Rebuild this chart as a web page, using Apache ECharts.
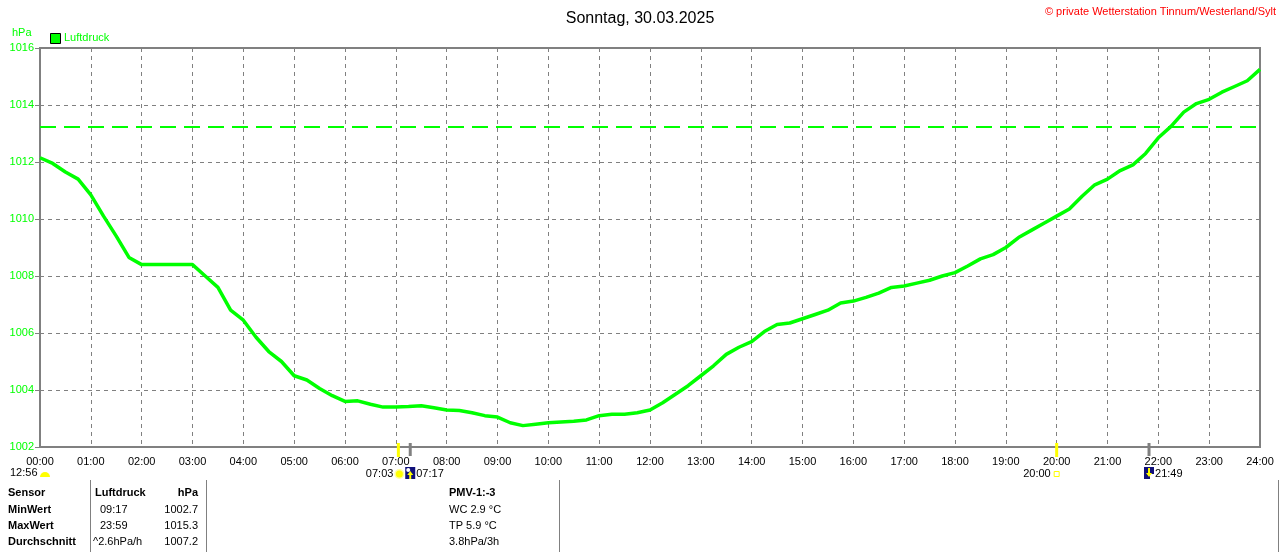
<!DOCTYPE html>
<html>
<head>
<meta charset="utf-8">
<script src="https://cdn.jsdelivr.net/npm/echarts@6/dist/echarts.min.js"></script>
<style>
  html, body { margin: 0; padding: 0; background: #fff; }
  #chart { width: 1280px; height: 552px; }
</style>
</head>
<body>
<div id="chart"></div>
<script>
// Luftdruck in hPa, ein Wert je Viertelstunde (00:00 .. 24:00)
const luftdruck = [
  1012.15, 1011.95, 1011.65, 1011.4,
  1010.85, 1010.1, 1009.4, 1008.65,
  1008.4, 1008.4, 1008.4, 1008.4,
  1008.4, 1008.0, 1007.6, 1006.8,
  1006.45, 1005.85, 1005.35, 1005.0,
  1004.5, 1004.35, 1004.05, 1003.8,
  1003.6, 1003.62, 1003.5, 1003.4,
  1003.4, 1003.42, 1003.45, 1003.38,
  1003.3, 1003.28, 1003.2, 1003.1,
  1003.05, 1002.85, 1002.75, 1002.8,
  1002.85, 1002.88, 1002.9, 1002.95,
  1003.1, 1003.15, 1003.15, 1003.2,
  1003.3, 1003.55, 1003.85, 1004.15,
  1004.5, 1004.85, 1005.25, 1005.5,
  1005.7, 1006.05, 1006.3, 1006.35,
  1006.5, 1006.65, 1006.8, 1007.05,
  1007.12, 1007.25, 1007.4, 1007.6,
  1007.65, 1007.75, 1007.85, 1008.0,
  1008.12, 1008.35, 1008.6, 1008.75,
  1009.0, 1009.35, 1009.6, 1009.85,
  1010.1, 1010.35, 1010.8, 1011.2,
  1011.4, 1011.7, 1011.9, 1012.3,
  1012.85, 1013.25, 1013.75, 1014.05,
  1014.2, 1014.45, 1014.65, 1014.85,
  1015.25
];
const schritt = 15; // Minuten zwischen zwei Werten
const normalDruck = 1013.25;

// Sonne / Mond unter der Zeitachse
const sonne = [{ zeit: '07:03', auf: true }, { zeit: '20:00', auf: false }];
const mond = [{ zeit: '07:17', auf: true }, { zeit: '21:49', auf: false }];
const mondPhase = '12:56';

// Tabelle unten
const tabZeilen = ['Sensor', 'MinWert', 'MaxWert', 'Durchschnitt'];
const tabLuftdruck = ['Luftdruck', '09:17', '23:59', '^2.6hPa/h'];
const tabHpa = ['hPa', '1002.7', '1015.3', '1007.2'];
const tabPmv = ['PMV-1:-3', 'WC 2.9 °C', 'TP 5.9 °C', '3.8hPa/3h'];

const FONT = '"Liberation Sans", Arial, sans-serif';
const GRUEN = '#00ff00';
const GRAU = '#808080';

function zuMin(t) {
  const [h, m] = t.split(':').map(Number);
  return h * 60 + m;
}

const chart = echarts.init(document.getElementById('chart'));

const option = {
  backgroundColor: '#fff',
  animation: false,
  title: {
    text: 'Sonntag, 30.03.2025',
    left: 'center',
    top: 6,
    textStyle: { fontFamily: FONT, fontSize: 16, fontWeight: 'normal', color: '#000' }
  },
  grid: {
    left: 40, right: 20, top: 48, bottom: 105,
    show: true, borderColor: GRAU, borderWidth: 2, backgroundColor: 'transparent'
  },
  xAxis: {
    type: 'value',
    min: 0, max: 1440, interval: 60,
    axisLine: { show: true, lineStyle: { color: GRAU, width: 2 } },
    axisTick: { show: false },
    axisLabel: {
      color: '#000', fontFamily: FONT, fontSize: 11, margin: 9,
      showMaxLabel: true, showMinLabel: true,
      formatter: v => String(Math.round(v / 60)).padStart(2, '0') + ':00'
    },
    splitLine: { show: true, lineStyle: { color: GRAU, type: [4, 4], width: 1 } }
  },
  yAxis: {
    type: 'value',
    min: 1002, max: 1016, interval: 2,
    axisLine: { show: true, lineStyle: { color: GRAU, width: 2 } },
    axisTick: { show: true, length: 5, lineStyle: { color: GRAU } },
    axisLabel: {
      color: GRUEN, fontFamily: FONT, fontSize: 11, margin: 6,
      formatter: v => String(v)
    },
    splitLine: { show: true, lineStyle: { color: GRAU, type: [4, 4], width: 1 } }
  },
  series: [{
    name: 'Luftdruck',
    type: 'line',
    data: luftdruck.map((v, i) => [i * schritt, v]),
    showSymbol: false,
    lineStyle: { color: GRUEN, width: 3.5 },
    z: 5,
    markLine: {
      silent: true,
      symbol: 'none',
      label: { show: false },
      lineStyle: { color: GRUEN, type: [16, 8], width: 2 },
      data: [{ yAxis: normalDruck }]
    }
  }]
};
chart.setOption(option);

// Beschriftungen und Symbole um das Diagramm herum
function px(t) {
  return chart.convertToPixel({ gridIndex: 0 }, [zuMin(t), 1002]);
}

function pfeil(cx, y0, auf) {
  // kleiner gelber Pfeil im blauen Mondkasten
  const pts = auf
    ? [[cx, y0 + 4], [cx + 3, y0 + 8], [cx + 1, y0 + 8], [cx + 1, y0 + 12], [cx - 1, y0 + 12], [cx - 1, y0 + 8], [cx - 3, y0 + 8]]
    : [[cx, y0 + 10], [cx + 3, y0 + 6], [cx + 1, y0 + 6], [cx + 1, y0 + 1], [cx - 1, y0 + 1], [cx - 1, y0 + 6], [cx - 3, y0 + 6]];
  return { type: 'polygon', shape: { points: pts }, style: { fill: '#ffff00' }, z: 12 };
}

const txt = (x, y, text, opt = {}) => ({
  type: 'text', x, y,
  style: Object.assign({
    text, fontFamily: FONT, fontSize: 11, fill: '#000',
    textAlign: 'left', textVerticalAlign: 'middle'
  }, opt),
  z: 10
});

const g = [];

// Einheit + Legende
g.push(txt(12, 33, 'hPa', { fill: GRUEN }));
g.push({ type: 'rect', shape: { x: 50.5, y: 33.5, width: 10, height: 10 }, style: { fill: GRUEN, stroke: '#000', lineWidth: 1 }, z: 10 });
g.push(txt(64, 38, 'Luftdruck', { fill: GRUEN }));

// Copyright
g.push(txt(1276, 12, '© private Wetterstation Tinnum/Westerland/Sylt', { fill: '#ff0000', textAlign: 'right' }));

// Mondphase links
g.push(txt(10, 473, mondPhase));
g.push({ type: 'sector', shape: { cx: 45, cy: 477, r0: 0, r: 5, startAngle: Math.PI, endAngle: 2 * Math.PI, clockwise: true }, style: { fill: '#ffff00' }, z: 10 });

// Sonne
sonne.forEach(s => {
  const [x, yb] = px(s.zeit);
  g.push({ type: 'line', shape: { x1: x, y1: yb - 4, x2: x, y2: yb + 10 }, style: { stroke: '#ffff00', lineWidth: 3 }, z: 11 });
  if (s.auf) {
    g.push({ type: 'circle', shape: { cx: x + 1, cy: 474, r: 5 }, style: { fill: '#ffffa0' }, z: 10 });
    g.push({ type: 'circle', shape: { cx: x + 1, cy: 474, r: 3.5 }, style: { fill: '#ffff00' }, z: 11 });
    g.push(txt(x - 5, 474, s.zeit, { textAlign: 'right' }));
  } else {
    g.push({ type: 'rect', shape: { x: x - 2.5, y: 471.5, width: 5, height: 5 }, style: { fill: 'none', stroke: '#ffff00', lineWidth: 1 }, z: 11 });
    g.push(txt(x - 6, 474, s.zeit, { textAlign: 'right' }));
  }
});

// Mond
mond.forEach(m => {
  const [x, yb] = px(m.zeit);
  g.push({ type: 'line', shape: { x1: x, y1: yb - 4, x2: x, y2: yb + 9 }, style: { stroke: GRAU, lineWidth: 3 }, z: 11 });
  g.push({ type: 'rect', shape: { x: x - 5, y: 467, width: 10, height: 12 }, style: { fill: '#10107a' }, z: 10 });
  if (m.auf) {
    g.push({ type: 'circle', shape: { cx: x - 2, cy: 470, r: 2 }, style: { fill: '#ffffff' }, z: 12 });
  } else {
    g.push({ type: 'rect', shape: { x: x + 1, y: 474, width: 4, height: 5 }, style: { fill: '#ffffff' }, z: 12 });
  }
  g.push(pfeil(x, 467, m.auf));
  g.push(txt(x + 6, 474, m.zeit));
});

// Tabelle
const zeilenY = [493, 510, 526, 542];
zeilenY.forEach((y, i) => {
  const fett = i === 0 ? 'bold' : 'normal';
  g.push(txt(8, y, tabZeilen[i], { fontWeight: 'bold' }));
  g.push(txt(i === 0 ? 95 : (i === 3 ? 93 : 100), y, tabLuftdruck[i], { fontWeight: fett }));
  g.push(txt(198, y, tabHpa[i], { fontWeight: fett, textAlign: 'right' }));
  g.push(txt(449, y, tabPmv[i], { fontWeight: fett }));
});
[90, 206, 559, 1278].forEach(x => {
  g.push({ type: 'line', shape: { x1: x + 0.5, y1: 480, x2: x + 0.5, y2: 552 }, style: { stroke: GRAU, lineWidth: 1 }, z: 10 });
});

chart.setOption({ graphic: g });
</script>
</body>
</html>
